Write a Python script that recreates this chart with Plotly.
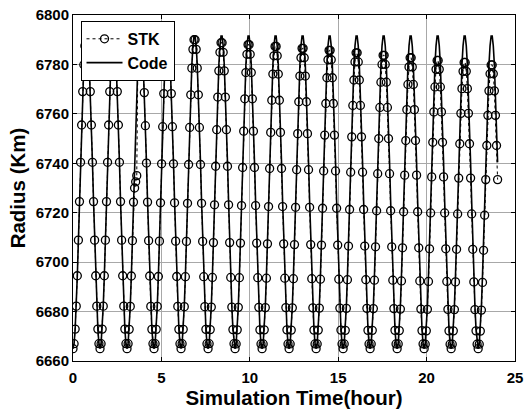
import plotly.graph_objects as go

# ---- data ----
# STK report step: 220 s  -> samples every 220/3600 h
STEP_SECONDS = 220

stk_radius_km = [
    6665.0, 6667.0, 6672.9, 6682.2, 6694.5, 6708.9, 6724.5, 6740.4, 6755.5, 6769.0, 6779.9, 6787.5, 6791.5, 6791.5, 6787.5, 6779.9, 6769.0, 6755.5, 6740.4, 6724.5, 6708.9, 6694.5, 6682.2, 6672.9, 6667.0,
    6665.0, 6667.0, 6672.9, 6682.2, 6694.5, 6708.9, 6724.5, 6740.4, 6755.5, 6769.0, 6779.9, 6787.5, 6791.5, 6791.5, 6787.5, 6779.9, 6769.0, 6755.5, 6740.4, 6724.5, 6708.9, 6694.5, 6682.2, 6672.9, 6667.0,
    6665.0, 6667.0, 6672.8, 6682.1, 6694.4, 6708.7, 6724.3, 6730.0, 6732.5, 6735.0, 6779.4, 6787.1, 6791.0, 6791.0, 6787.1, 6779.4, 6768.6, 6755.2, 6740.1, 6724.3, 6708.7, 6694.4, 6682.1, 6672.8, 6667.0,
    6665.0, 6667.0, 6672.8, 6682.1, 6694.2, 6708.5, 6724.0, 6739.8, 6754.8, 6768.2, 6779.0, 6786.6, 6790.5, 6790.5, 6786.6, 6779.0, 6768.2, 6754.8, 6739.8, 6724.0, 6708.5, 6694.2, 6682.1, 6672.8, 6667.0,
    6665.0, 6667.0, 6672.8, 6682.0, 6694.1, 6708.4, 6723.8, 6739.5, 6754.5, 6767.7, 6778.5, 6786.1, 6790.0, 6790.0, 6786.1, 6778.5, 6767.7, 6754.5, 6739.5, 6723.8, 6708.4, 6694.1, 6682.0, 6672.8, 6667.0,
    6665.0, 6667.0, 6672.7, 6681.8, 6693.8, 6707.9, 6723.2, 6738.8, 6753.6, 6766.8, 6777.4, 6784.9, 6788.8, 6788.8, 6784.9, 6777.4, 6766.8, 6753.6, 6738.8, 6723.2, 6707.9, 6693.8, 6681.8, 6672.7, 6667.0,
    6665.0, 6666.9, 6672.6, 6681.7, 6693.7, 6707.7, 6722.9, 6738.3, 6753.0, 6766.1, 6776.7, 6784.1, 6788.0, 6788.0, 6784.1, 6776.7, 6766.1, 6753.0, 6738.3, 6722.9, 6707.7, 6693.7, 6681.7, 6672.6, 6666.9,
    6665.0, 6666.9, 6672.6, 6681.6, 6693.5, 6707.4, 6722.5, 6737.9, 6752.5, 6765.5, 6776.1, 6783.5, 6787.3, 6787.3, 6783.5, 6776.1, 6765.5, 6752.5, 6737.9, 6722.5, 6707.4, 6693.5, 6681.6, 6672.6, 6666.9,
    6665.0, 6666.9, 6672.5, 6681.5, 6693.3, 6707.1, 6722.2, 6737.4, 6752.0, 6764.9, 6775.3, 6782.7, 6786.5, 6786.5, 6782.7, 6775.3, 6764.9, 6752.0, 6737.4, 6722.2, 6707.1, 6693.3, 6681.5, 6672.5, 6666.9,
    6665.0, 6666.9, 6672.5, 6681.4, 6693.1, 6706.9, 6721.8, 6736.9, 6751.4, 6764.2, 6774.6, 6781.9, 6785.7, 6785.7, 6781.9, 6774.6, 6764.2, 6751.4, 6736.9, 6721.8, 6706.9, 6693.1, 6681.4, 6672.5, 6666.9,
    6665.0, 6666.9, 6672.4, 6681.3, 6692.9, 6706.5, 6721.3, 6736.4, 6750.7, 6763.4, 6773.7, 6781.0, 6784.7, 6784.7, 6781.0, 6773.7, 6763.4, 6750.7, 6736.4, 6721.3, 6706.5, 6692.9, 6681.3, 6672.4, 6666.9,
    6665.0, 6666.9, 6672.4, 6681.2, 6692.7, 6706.2, 6720.8, 6735.8, 6750.0, 6762.6, 6772.8, 6780.0, 6783.7, 6783.7, 6780.0, 6772.8, 6762.6, 6750.0, 6735.8, 6720.8, 6706.2, 6692.7, 6681.2, 6672.4, 6666.9,
    6665.0, 6666.9, 6672.3, 6681.0, 6692.4, 6705.8, 6720.4, 6735.2, 6749.2, 6761.7, 6771.9, 6779.0, 6782.7, 6782.7, 6779.0, 6771.9, 6761.7, 6749.2, 6735.2, 6720.4, 6705.8, 6692.4, 6681.0, 6672.3, 6666.9,
    6665.0, 6666.8, 6672.2, 6680.9, 6692.2, 6705.4, 6719.9, 6734.5, 6748.5, 6760.8, 6770.9, 6778.0, 6781.6, 6781.6, 6778.0, 6770.9, 6760.8, 6748.5, 6734.5, 6719.9, 6705.4, 6692.2, 6680.9, 6672.2, 6666.8,
    6665.0, 6666.8, 6672.2, 6680.8, 6692.0, 6705.2, 6719.5, 6734.0, 6747.9, 6760.2, 6770.2, 6777.2, 6780.8, 6780.8, 6777.2, 6770.2, 6760.2, 6747.9, 6734.0, 6719.5, 6705.2, 6692.0, 6680.8, 6672.2, 6666.8,
    6665.0, 6666.8, 6672.1, 6680.6, 6691.8, 6704.8, 6719.0, 6733.4, 6747.2, 6759.4, 6769.3, 6776.2, 6779.8, 6779.8, 6776.2, 6769.3, 6759.4, 6747.2, 6733.4,
]

code_radius_km = [
    6665.0, 6667.0, 6672.9, 6682.2, 6694.5, 6708.9, 6724.5, 6740.4, 6755.5, 6769.0, 6779.9, 6787.5, 6791.5, 6791.5, 6787.5, 6779.9, 6769.0, 6755.5, 6740.4, 6724.5, 6708.9, 6694.5, 6682.2, 6672.9, 6667.0,
    6665.0, 6667.0, 6672.9, 6682.2, 6694.5, 6708.9, 6724.5, 6740.4, 6755.5, 6769.0, 6779.9, 6787.5, 6791.5, 6791.5, 6787.5, 6779.9, 6769.0, 6755.5, 6740.4, 6724.5, 6708.9, 6694.5, 6682.2, 6672.9, 6667.0,
    6665.0, 6667.0, 6672.9, 6682.2, 6694.5, 6708.9, 6724.5, 6740.4, 6755.5, 6769.0, 6779.9, 6787.5, 6791.5, 6791.5, 6787.5, 6779.9, 6769.0, 6755.5, 6740.4, 6724.5, 6708.9, 6694.5, 6682.2, 6672.9, 6667.0,
    6665.0, 6667.0, 6672.9, 6682.2, 6694.5, 6708.9, 6724.5, 6740.4, 6755.5, 6769.0, 6779.9, 6787.5, 6791.5, 6791.5, 6787.5, 6779.9, 6769.0, 6755.5, 6740.4, 6724.5, 6708.9, 6694.5, 6682.2, 6672.9, 6667.0,
    6665.0, 6667.0, 6672.9, 6682.2, 6694.5, 6708.9, 6724.5, 6740.4, 6755.5, 6769.0, 6779.9, 6787.5, 6791.5, 6791.5, 6787.5, 6779.9, 6769.0, 6755.5, 6740.4, 6724.5, 6708.9, 6694.5, 6682.2, 6672.9, 6667.0,
    6665.0, 6667.0, 6672.9, 6682.2, 6694.5, 6708.9, 6724.5, 6740.4, 6755.5, 6769.0, 6779.9, 6787.5, 6791.5, 6791.5, 6787.5, 6779.9, 6769.0, 6755.5, 6740.4, 6724.5, 6708.9, 6694.5, 6682.2, 6672.9, 6667.0,
    6665.0, 6667.0, 6672.9, 6682.2, 6694.5, 6708.9, 6724.5, 6740.4, 6755.5, 6769.0, 6779.9, 6787.5, 6791.5, 6791.5, 6787.5, 6779.9, 6769.0, 6755.5, 6740.4, 6724.5, 6708.9, 6694.5, 6682.2, 6672.9, 6667.0,
    6665.0, 6667.0, 6672.9, 6682.2, 6694.5, 6708.9, 6724.5, 6740.4, 6755.5, 6769.0, 6779.9, 6787.5, 6791.5, 6791.5, 6787.5, 6779.9, 6769.0, 6755.5, 6740.4, 6724.5, 6708.9, 6694.5, 6682.2, 6672.9, 6667.0,
    6665.0, 6667.0, 6672.9, 6682.2, 6694.5, 6708.9, 6724.5, 6740.4, 6755.5, 6769.0, 6779.9, 6787.5, 6791.5, 6791.5, 6787.5, 6779.9, 6769.0, 6755.5, 6740.4, 6724.5, 6708.9, 6694.5, 6682.2, 6672.9, 6667.0,
    6665.0, 6667.0, 6672.9, 6682.2, 6694.5, 6708.9, 6724.5, 6740.4, 6755.5, 6769.0, 6779.9, 6787.5, 6791.5, 6791.5, 6787.5, 6779.9, 6769.0, 6755.5, 6740.4, 6724.5, 6708.9, 6694.5, 6682.2, 6672.9, 6667.0,
    6665.0, 6667.0, 6672.9, 6682.2, 6694.5, 6708.9, 6724.5, 6740.4, 6755.5, 6769.0, 6779.9, 6787.5, 6791.5, 6791.5, 6787.5, 6779.9, 6769.0, 6755.5, 6740.4, 6724.5, 6708.9, 6694.5, 6682.2, 6672.9, 6667.0,
    6665.0, 6667.0, 6672.9, 6682.2, 6694.5, 6708.9, 6724.5, 6740.4, 6755.5, 6769.0, 6779.9, 6787.5, 6791.5, 6791.5, 6787.5, 6779.9, 6769.0, 6755.5, 6740.4, 6724.5, 6708.9, 6694.5, 6682.2, 6672.9, 6667.0,
    6665.0, 6667.0, 6672.9, 6682.2, 6694.5, 6708.9, 6724.5, 6740.4, 6755.5, 6769.0, 6779.9, 6787.5, 6791.5, 6791.5, 6787.5, 6779.9, 6769.0, 6755.5, 6740.4, 6724.5, 6708.9, 6694.5, 6682.2, 6672.9, 6667.0,
    6665.0, 6667.0, 6672.9, 6682.2, 6694.5, 6708.9, 6724.5, 6740.4, 6755.5, 6769.0, 6779.9, 6787.5, 6791.5, 6791.5, 6787.5, 6779.9, 6769.0, 6755.5, 6740.4, 6724.5, 6708.9, 6694.5, 6682.2, 6672.9, 6667.0,
    6665.0, 6667.0, 6672.9, 6682.2, 6694.5, 6708.9, 6724.5, 6740.4, 6755.5, 6769.0, 6779.9, 6787.5, 6791.5, 6791.5, 6787.5, 6779.9, 6769.0, 6755.5, 6740.4, 6724.5, 6708.9, 6694.5, 6682.2, 6672.9, 6667.0,
    6665.0, 6667.0, 6672.9, 6682.2, 6694.5, 6708.9, 6724.5, 6740.4, 6755.5, 6769.0, 6779.9, 6787.5, 6791.5, 6791.5, 6787.5, 6779.9, 6769.0, 6755.5, 6740.4,
]

# sample times (hours) of the STK report / code output
sample_hours = [i * STEP_SECONDS / 3600.0 for i in range(len(stk_radius_km))]

x_ticks = [0, 5, 10, 15, 20, 25]
y_ticks = [6660, 6680, 6700, 6720, 6740, 6760, 6780, 6800]

series_names = ["STK", "Code"]
x_title = "Simulation Time(hour)"
y_title = "Radius (Km)"

FONT = "Liberation Sans, Arial, Helvetica, sans-serif"

fig = go.Figure()
fig.add_trace(go.Scatter(
    x=sample_hours, y=stk_radius_km, name=series_names[0], mode="lines+markers",
    line=dict(color="black", width=1, dash="dot"),
    marker=dict(symbol="circle-open", size=8, color="black", line=dict(width=1.3, color="black")),
))
fig.add_trace(go.Scatter(
    x=sample_hours, y=code_radius_km, name=series_names[1], mode="lines",
    line=dict(color="black", width=1.6),
))

axis_common = dict(
    ticks="inside", ticklen=4, tickcolor="black", tickwidth=1,
    showline=True, linecolor="black", linewidth=1, mirror="ticks",
    showgrid=True, gridcolor="#a8a8a8", gridwidth=1, zeroline=False,
    automargin=False, ticklabeloverflow="allow",
    tickfont=dict(family=FONT, size=15, color="black", weight="bold"),
)

fig.update_xaxes(range=[0, 25], tickvals=x_ticks, ticktext=[str(v) for v in x_ticks],
                 ticklabelstandoff=3,
                 title=dict(text=x_title, standoff=2,
                            font=dict(family=FONT, size=20.5, color="black", weight="bold")),
                 **axis_common)
fig.update_yaxes(range=[6660, 6800], tickvals=y_ticks, ticktext=[str(v) for v in y_ticks],
                 title=dict(text=y_title, standoff=4,
                            font=dict(family=FONT, size=20.5, color="black", weight="bold")),
                 **axis_common)

fig.update_layout(
    width=524, height=412,
    margin=dict(l=73, r=9, t=15, b=51),
    paper_bgcolor="white", plot_bgcolor="white",
    font=dict(family=FONT, color="black"),
    showlegend=True,
    legend=dict(
        x=0.017, y=0.983, xanchor="left", yanchor="top",
        bordercolor="black", borderwidth=1, bgcolor="white",
        font=dict(family=FONT, size=16, color="black", weight="bold"),
        itemwidth=36,
    ),
)

# remove the default 8 px page margin so the 524x412 figure fills the window exactly
fig.write_html(
    "out.html",
    config={"displayModeBar": False},
    post_script="document.body.style.margin='0';document.body.style.overflow='hidden';",
)
